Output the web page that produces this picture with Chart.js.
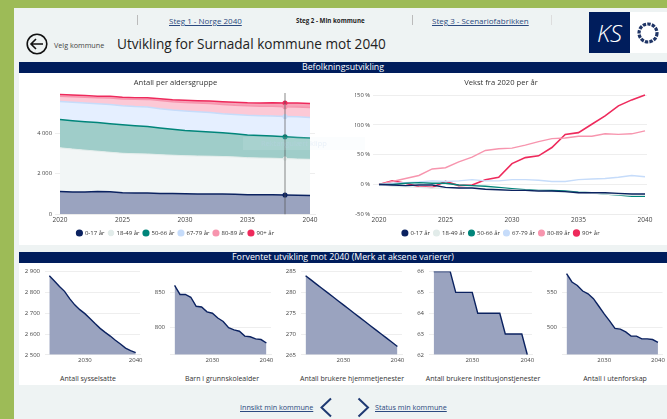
<!DOCTYPE html>
<html lang="no">
<head>
<meta charset="utf-8">
<title>Utvikling for Surnadal kommune mot 2040</title>
<script src="https://cdn.jsdelivr.net/npm/chart.js@4"></script>
<style>
    html, body { margin: 0; padding: 0; width: 667px; height: 419px; overflow: hidden; }
    body { background: #9dbb57; font-family: "Open Sans", sans-serif; color: #222; }
    #stage { position: absolute; left: 0; top: 0; width: 667px; height: 419px; overflow: hidden; filter: blur(0.6px); }
    #panel { position: absolute; left: 14px; top: 8px; right: 0; bottom: 0; background: #eef3f3; }
    .card { position: absolute; left: 19px; right: 0; background: #fff; }
    .bar { position: absolute; left: 19px; right: 0; height: 11px; background: #001d5c; color: #fff; font-size: 8.8px; line-height: 11px; text-align: center; }
    .txt { position: absolute; white-space: nowrap; }
    .lnk { color: #2b4a80; text-decoration: underline; font-size: 8px; }
    .sep { position: absolute; top: 15px; width: 1px; height: 10px; background: #bbb; }
    .cap { position: absolute; top: 374px; width: 140px; text-align: center; font-size: 7px; line-height: 10px; color: #333; white-space: nowrap; }
    canvas { position: absolute; }
</style>
</head>
<body>
<div id="stage">
    <div id="panel"></div>
    <div class="card" style="top:73px;height:172px"></div>
    <div class="card" style="top:263px;height:122px"></div>

    <div class="sep" style="left:137px"></div>
    <div class="sep" style="left:412px"></div>
    <div class="sep" style="left:551px;background:#ddd"></div>
    <span class="txt lnk" style="left:169px;top:15px">Steg 1 - Norge 2040</span>
    <span class="txt" style="left:296px;top:16px;font-size:6.2px;font-weight:700">Steg 2 - Min kommune</span>
    <span class="txt lnk" style="left:432px;top:15px">Steg 3 - Scenariofabrikken</span>

    <svg class="txt" style="left:26px;top:33px" width="24" height="24" viewBox="0 0 24 24" fill="none" stroke="#111" stroke-width="1.6">
        <circle cx="11" cy="11" r="9.8"/><path d="M17 11H5M10 6l-5 5 5 5"/>
    </svg>
    <span class="txt" style="left:54px;top:40px;font-size:7.2px;color:#444">Velg kommune</span>
    <span class="txt" style="left:117px;top:34px;font-size:13.6px;color:#222">Utvikling for Surnadal kommune mot 2040</span>

    <div class="txt" style="left:589px;top:12px;width:41px;height:41px;background:#001d5c;color:#fff;font-size:24px;font-weight:300;font-style:italic;line-height:41px;text-align:center">KS</div>
    <div class="txt" style="left:630px;top:12px;width:37px;height:41px;background:#fff"></div>
    <svg class="txt" style="left:636px;top:21px" width="24" height="24" viewBox="0 0 24 24" fill="none" stroke="#1f3566">
        <circle cx="12" cy="12" r="9" stroke-width="3.2" stroke-dasharray="3.4 1.2"/>
    </svg>

    <div class="bar" style="top:62px">Befolkningsutvikling</div>
    <div class="bar" style="top:252px">Forventet utvikling mot 2040 (Merk at aksene varierer)</div>

    <canvas id="chartAntall" style="left:36px;top:73px" width="300" height="173"></canvas>
    <canvas id="chartVekst" style="left:355px;top:73px" width="300" height="173"></canvas>
    <canvas id="chartSyss" style="left:20px;top:263px" width="125" height="105"></canvas>
    <canvas id="chartBarn" style="left:145px;top:263px" width="131" height="105"></canvas>
    <canvas id="chartHjem" style="left:276px;top:263px" width="131" height="105"></canvas>
    <canvas id="chartInst" style="left:404px;top:263px" width="133" height="105"></canvas>
    <canvas id="chartUten" style="left:537px;top:263px" width="130" height="105"></canvas>

    <div class="cap" style="left:18px">Antall sysselsatte</div>
    <div class="cap" style="left:152px">Barn i grunnskolealder</div>
    <div class="cap" style="left:282px">Antall brukere hjemmetjenester</div>
    <div class="cap" style="left:413px">Antall brukere institusjonstjenester</div>
    <div class="cap" style="left:545px">Antall i utenforskap</div>

    <div class="txt" style="left:243px;top:137px;width:122px;height:13px;background:rgba(225,238,250,.14);color:rgba(190,210,235,.3);font-size:7.5px;line-height:13px;text-indent:18px">Rektangulært klipp</div>

    <span class="txt lnk" style="left:240px;top:402px;font-size:7.2px">Innsikt min kommune</span>
    <svg class="txt" style="left:318px;top:397px" width="54" height="21" fill="none" stroke="#1f3a73" stroke-width="2">
        <path d="M13 1.5L3.5 10.5 13 19.5M40.5 1.5L50 10.5 40.5 19.5"/>
    </svg>
    <span class="txt lnk" style="left:375px;top:402px;font-size:7.2px">Status min kommune</span>
</div>

<script>
// Years on the population charts
const years = [2020, 2021, 2022, 2023, 2024, 2025, 2026, 2027, 2028, 2029, 2030,
    2031, 2032, 2033, 2034, 2035, 2036, 2037, 2038, 2039, 2040];
const groups = ['0-17 år', '18-49 år', '50-66 år', '67-79 år', '80-89 år', '90+ år'];

// Antall per aldersgruppe
const antall0 = [1120, 1105, 1100, 1130, 1110, 1065, 1050, 1050, 1030, 1020, 1010, 1005, 1000, 995, 985, 965, 960, 960, 950, 940, 930];
const antall18 = [2170, 2125, 2075, 1995, 1960, 1955, 1945, 1935, 1920, 1905, 1890, 1880, 1875, 1865, 1855, 1835, 1825, 1815, 1805, 1795, 1790];
const antall50 = [1400, 1405, 1410, 1415, 1415, 1410, 1385, 1355, 1320, 1280, 1246, 1220, 1200, 1175, 1150, 1130, 1115, 1100, 1085, 1070, 1060];
const antall67 = [900, 915, 925, 935, 950, 945, 955, 970, 955, 955, 970, 970, 965, 945, 945, 970, 980, 990, 1005, 1030, 1015];
const antall80 = [260, 273, 286, 299, 328, 333, 359, 380, 408, 416, 419, 432, 447, 460, 463, 471, 471, 481, 478, 481, 494];
const antall90 = [80, 85, 82, 77, 76, 84, 78, 79, 86, 90, 108, 116, 118, 130, 147, 150, 161, 172, 186, 194, 200];

// Vekst fra 2020 per år (prosent)
const vekst0 = [0, -1, -2, -1, -1, -5, -6, -6, -8, -9, -10, -10, -11, -11, -12, -14, -14, -14, -15, -16, -16];
const vekst18 = [0, -3, -4, -5, -6, -6, -6, -6, -7, -8, -9, -10, -11, -12, -13, -14, -15, -16, -17, -18, -18];
const vekst50 = [0, 0, 2, 3, 2, 2, -1, -2, -3, -5, -7, -9, -10, -10, -11, -13, -14, -16, -18, -20, -20];
const vekst67 = [0, 2, 3, 4, 6, 5, 6, 8, 6, 6, 8, 8, 7, 5, 5, 8, 9, 10, 12, 15, 13];
const vekst80 = [0, 5, 10, 15, 26, 28, 38, 46, 57, 60, 61, 66, 72, 77, 78, 81, 81, 85, 84, 85, 90];
const vekst90 = [0, 6, 2, -4, -5, 5, -2, -1, 8, 12, 35, 45, 48, 62, 84, 87, 101, 115, 132, 142, 150];

// The small charts
const smallYears = [2023, 2024, 2025, 2026, 2027, 2028, 2029, 2030, 2031, 2032, 2033, 2034, 2035, 2036, 2037, 2038, 2039, 2040];
const sysselsatte = [2880, 2855, 2828, 2805, 2770, 2740, 2717, 2698, 2675, 2650, 2627, 2608, 2590, 2570, 2552, 2532, 2520, 2510];
const barn = [860, 847, 847, 843, 830, 829, 822, 820, 813, 808, 799, 796, 794, 787, 786, 783, 782, 777];
const hjemme = [284, 283, 282, 281, 280, 279, 278, 277, 276, 275, 274, 273, 272, 271, 270, 269, 268, 267];
const institusjon = [66, 66, 66, 66, 65, 65, 65, 65, 64, 64, 64, 64, 64, 63, 63, 63, 63, 62];
const utenfor = [577, 565, 560, 552, 548, 541, 530, 519, 509, 498, 497, 493, 487, 487, 483, 483, 482, 478];

const lineColors = ['#0b2260', '#e2ecea', '#00857a', '#c6dcfa', '#f795ae', '#ee2a5c'];
const fillColors = ['#9aa3bf', '#f2f6f6', '#9fcdc9', '#e5efff', '#fcc9d6', '#f7a3b8'];
const navy = '#0b2260';
const markedYear = 2038;
const fontName = '"Open Sans", sans-serif';

function pairs(xs, ys) {
    return xs.map((x, i) => ({ x: x, y: ys[i] }));
}

function spaced(v) {
    return String(v).replace(/\B(?=(\d{3})+$)/g, ' ');
}

// Vertical marker on the year that is hovered in the report
const markerLine = {
    id: 'markerLine',
    afterDatasetsDraw(chart) {
        const x = chart.scales.x.getPixelForValue(markedYear);
        const c = chart.ctx;
        c.save();
        c.strokeStyle = 'rgba(80,80,80,.45)';
        c.lineWidth = 1.5;
        c.beginPath();
        c.moveTo(x, chart.chartArea.top);
        c.lineTo(x, chart.chartArea.bottom);
        c.stroke();
        c.restore();
    }
};

function axisX(min, max, step, fontSize) {
    return {
        type: 'linear', min: min, max: max,
        grid: { display: false, drawTicks: false },
        border: { color: '#ececec' },
        ticks: { stepSize: step, includeBounds: false, maxRotation: 0, padding: 2, color: '#444',
            font: { family: fontName, size: fontSize }, callback: v => String(v) }
    };
}

function axisY(min, max, step, width, pad, fontSize, format) {
    return {
        min: min, max: max,
        afterFit: scale => { scale.width = width; },
        grid: { color: '#eeeeee', drawTicks: false },
        border: { display: false },
        ticks: { stepSize: step, includeBounds: false, padding: pad, color: '#444',
            font: { family: fontName, size: fontSize }, callback: format }
    };
}

function bigOptions(titleText, x, y, rightPad, titleGap) {
    return {
        responsive: false, animation: false,
        layout: { padding: { right: rightPad } },
        plugins: {
            title: { display: true, text: titleText, color: '#333', padding: { top: 5, bottom: titleGap },
                font: { family: fontName, size: 7.6, weight: 'normal' } },
            legend: { position: 'bottom',
                labels: { usePointStyle: true, pointStyle: 'circle', boxWidth: 5, boxHeight: 4, padding: 4, color: '#333',
                    font: { family: fontName, size: 6 } } },
            tooltip: { enabled: false }
        },
        scales: { x: x, y: y }
    };
}

function makeAntall() {
    const values = [antall0, antall18, antall50, antall67, antall80, antall90];
    const datasets = values.map((v, i) => ({
        label: groups[i],
        data: pairs(years, v),
        borderColor: lineColors[i],
        backgroundColor: fillColors[i],
        pointBackgroundColor: lineColors[i],
        pointBorderColor: lineColors[i],
        borderWidth: i === 1 ? 1 : 1.5,
        pointRadius: ctx => (years[ctx.dataIndex] === markedYear ? 1.8 : 0),
        fill: i === 0 ? 'origin' : '-1',
        stack: 'alle'
    }));
    // 6000 stays the top of the axis but is not labelled, as in the report
    const y = axisY(0, 6000, 2000, 19, 3, 5.8, v => (v > 4000 ? null : spaced(v)));
    y.stacked = true;
    new Chart(document.getElementById('chartAntall'), {
        type: 'line',
        data: { datasets: datasets },
        options: bigOptions('Antall per aldersgruppe', axisX(2019.6, 2040.4, 5, 6.5), y, 21, 6),
        plugins: [markerLine]
    });
}

function makeVekst() {
    const values = [vekst0, vekst18, vekst50, vekst67, vekst80, vekst90];
    const datasets = values.map((v, i) => ({
        label: groups[i],
        data: pairs(years, v),
        borderColor: lineColors[i],
        backgroundColor: lineColors[i],
        borderWidth: i === 5 ? 1.6 : 1.4,
        pointRadius: 0,
        clip: false
    }));
    new Chart(document.getElementById('chartVekst'), {
        type: 'line',
        data: { datasets: datasets },
        options: bigOptions('Vekst fra 2020 per år', axisX(2019.55, 2040.15, 5, 6.5),
            axisY(-50, 150, 50, 18, 3, 5.8, v => v + ' %'), 8, 8)
    });
}

function makeSmall(id, values, min, max, step, rightPad) {
    new Chart(document.getElementById(id), {
        type: 'line',
        data: { datasets: [{
            data: pairs(smallYears, values),
            borderColor: navy,
            backgroundColor: fillColors[0],
            borderWidth: 1.4,
            pointRadius: 0,
            fill: 'origin'
        }] },
        options: {
            responsive: false, animation: false,
            layout: { padding: { top: 8, right: rightPad, bottom: 2 } },
            plugins: {
                legend: { display: false },
                tooltip: { enabled: false }
            },
            scales: {
                x: axisX(2022.15, 2040.85, 10, 6),
                y: axisY(min, max, step, 25, 5, 6, v => spaced(v))
            }
        }
    });
}

window.addEventListener('DOMContentLoaded', () => {
    makeAntall();
    makeVekst();
    makeSmall('chartSyss', sysselsatte, 2500, 2900, 100, 5);
    makeSmall('chartBarn', barn, 760, 880, 50, 5);
    makeSmall('chartHjem', hjemme, 265, 285, 5, 5);
    makeSmall('chartInst', institusjon, 62, 66, 1, 5);
    makeSmall('chartUten', utenfor, 460, 580, 50, 4);
});
</script>
</body>
</html>
